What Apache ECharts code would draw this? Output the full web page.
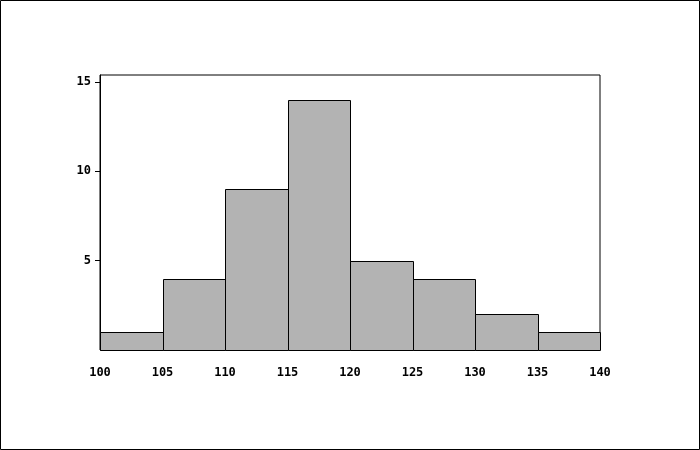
<!DOCTYPE html>
<html><head><meta charset="utf-8">
<script src="https://cdn.jsdelivr.net/npm/echarts@6/dist/echarts.min.js"></script>
<style>html,body{margin:0;padding:0;background:#fff}#c{width:700px;height:450px}</style>
</head><body><div id="c"></div>
<script>
const binStarts = [100,105,110,115,120,125,130,135];
const binWidth = 5;
const counts = [1,4,9,14,5,4,2,1];
const xTicks = [100,105,110,115,120,125,130,135,140];
const yTicks = [5,10,15];

const data = binStarts.map((s,i)=>[s, s+binWidth, counts[i]]);
const font = {fontFamily:'DejaVu Sans Mono', fontWeight:'bold', fontSize:12, color:'#000'};
const chart = echarts.init(document.getElementById('c'), null, {renderer:'canvas'});
chart.setOption({
  animation:false,
  graphic:[{type:'rect',shape:{x:0.5,y:0.5,width:699,height:449},style:{fill:'none',stroke:'#000',lineWidth:1},z:100}],
  grid:{left:100,right:100,top:75,bottom:100,show:true,borderColor:'#000',borderWidth:1,backgroundColor:'transparent'},
  xAxis:{type:'value',min:100,max:140,interval:5,
    axisLine:{show:false},axisTick:{show:false},splitLine:{show:false},
    axisLabel:Object.assign({margin:17,customValues:xTicks,showMinLabel:true,showMaxLabel:true},font)},
  yAxis:{type:'value',min:0,max:15.39,
    axisLine:{show:true,lineStyle:{color:'#000',width:1}},
    axisTick:{show:true,length:5,lineStyle:{color:'#000'},customValues:yTicks},
    splitLine:{show:false},
    axisLabel:Object.assign({margin:9,customValues:yTicks},font)},
  series:[{type:'custom',data:data,encode:{x:[0,1],y:2},
    renderItem:function(params,api){
      const p0=api.coord([api.value(0),0]);
      const p1=api.coord([api.value(1),api.value(2)]);
      const x=Math.round(p0[0])+0.5, x2=Math.round(p1[0])+0.5;
      const y=Math.round(p1[1])+0.5, y2=Math.round(p0[1])+0.5;
      return {type:'rect',shape:{x:x,y:y,width:x2-x,height:y2-y},
        style:{fill:'#b3b3b3',stroke:'#000',lineWidth:1}};
    }}]
});
</script></body></html>
